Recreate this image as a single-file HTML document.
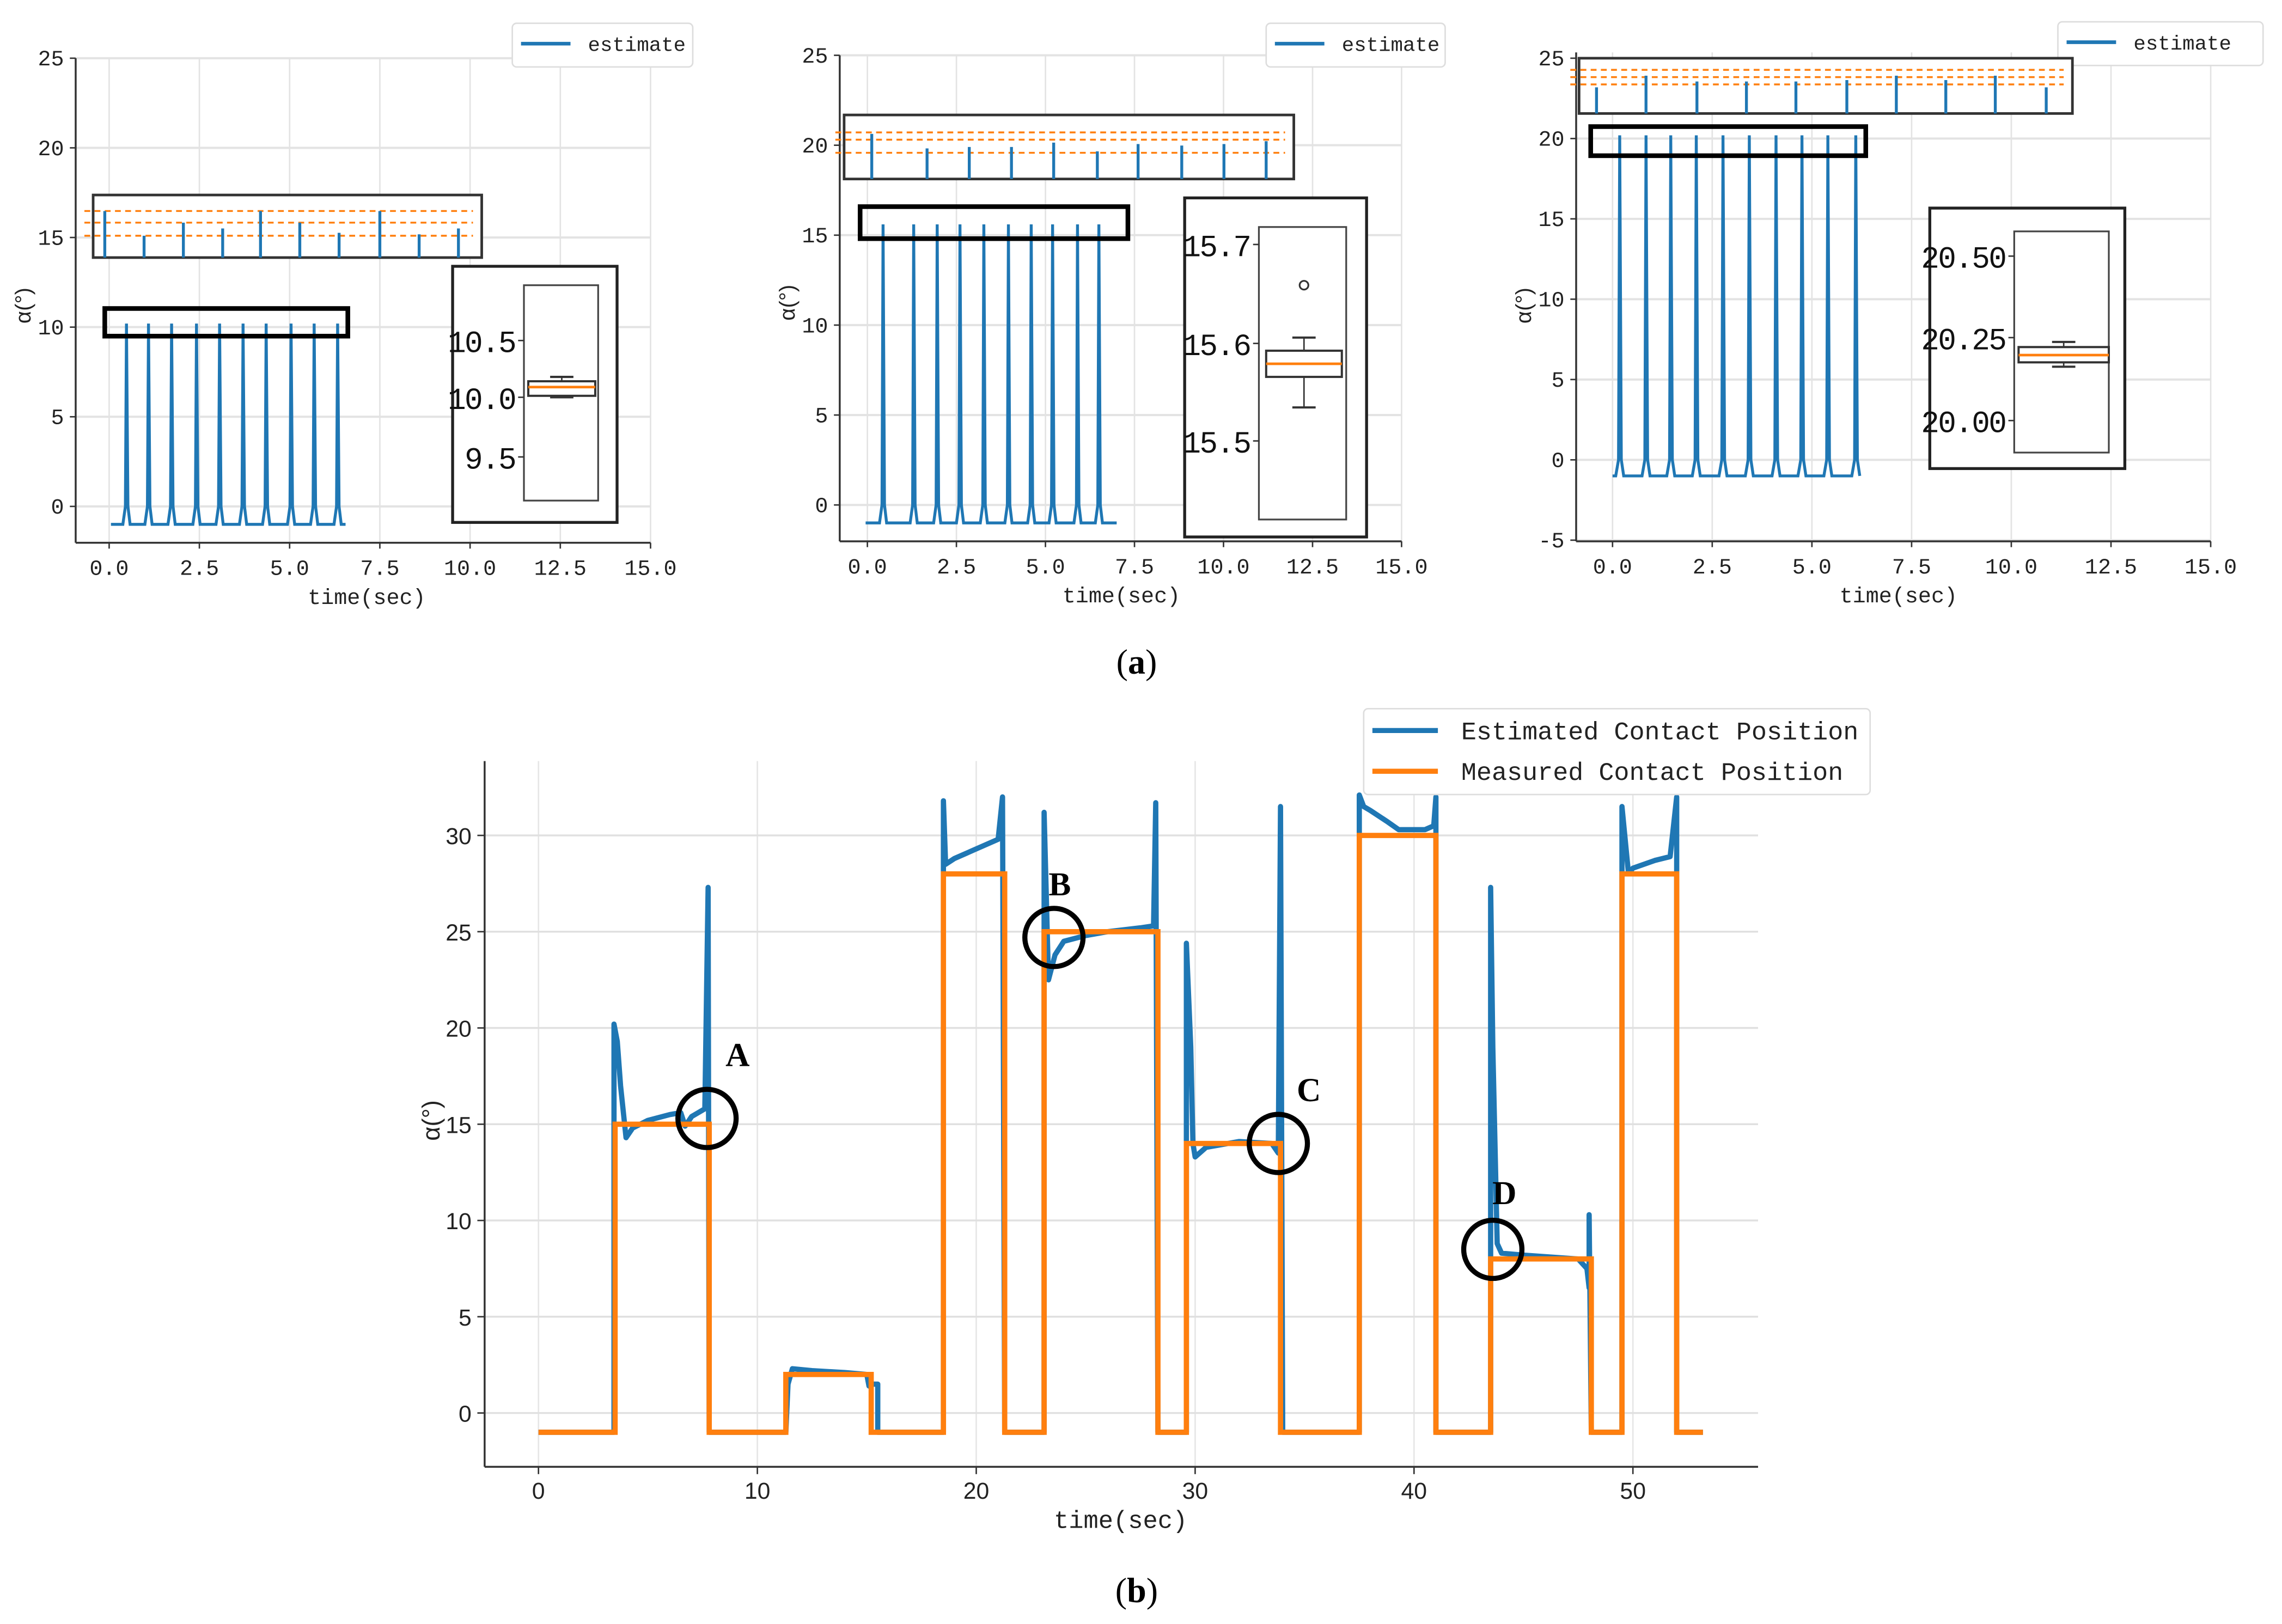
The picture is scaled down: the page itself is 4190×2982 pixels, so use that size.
<!DOCTYPE html>
<html><head><meta charset="utf-8"><style>
html,body{margin:0;padding:0;background:#fff;}
svg{display:block;}
text{font-family:"Liberation Sans","Noto Sans CJK SC",sans-serif;}
.mono{font-family:"Liberation Mono","Noto Sans CJK SC",monospace;}
</style></head><body>
<svg id="fig" xmlns="http://www.w3.org/2000/svg" width="4190" height="2982" viewBox="0 0 1568 1116" preserveAspectRatio="none">
<rect x="0" y="0" width="1568" height="1116" fill="#fff"/>
<text x="781" y="463" text-anchor="middle" style="font-family:'Liberation Serif',serif;font-size:24px">(<tspan font-weight="bold">a</tspan>)</text>
<text x="781" y="1101" text-anchor="middle" style="font-family:'Liberation Serif',serif;font-size:24px">(<tspan font-weight="bold">b</tspan>)</text>
</svg>
<script>
// ---- data: panel a peaks ----
const p1PeakTimes=[0.48,1.09,1.73,2.42,3.06,3.71,4.35,5.04,5.68,6.33];
const p1PeakValue=10.2;
const p1Range=[0.05,6.55];
const p2PeakTimes=[0.44,1.3,1.96,2.6,3.27,3.96,4.6,5.2,5.9,6.5];
const p2PeakValue=15.6;
const p2Range=[-0.05,7.0];
const p3PeakTimes=[0.18,0.84,1.46,2.1,2.77,3.43,4.1,4.75,5.4,6.1];
const p3PeakValue=20.2;
const p3Range=[0,6.2];
const baseline=-1;
const xTicksA=[0,2.5,5,7.5,10,12.5,15];
const xTickLabelsA=["0.0","2.5","5.0","7.5","10.0","12.5","15.0"];
const yTicks12=[0,5,10,15,20,25];
const yTicks3=[-5,0,5,10,15,20,25];
// ---- data: panel b ----
const measuredT=[0,3.5,7.8,11.3,15.2,18.5,21.3,23.1,28.3,29.6,33.9,37.5,41,43.5,48.1,49.5,52,53.2];
const measuredV=[-1,15,-1,2,-1,28,-1,25,-1,14,-1,30,-1,8,-1,28,-1];
const estT=[0,3.45,3.45,3.6,3.75,4.0,4.3,5,6,6.5,6.7,7.0,7.6,7.75,7.8,
11.3,11.4,11.6,12.5,14,15,15.1,15.3,15.5,15.5,
18.5,18.5,18.6,19,20,21,21.2,21.3,
23.1,23.1,23.3,23.6,24,25,26,27.5,28.1,28.2,28.3,
29.6,29.6,29.8,29.9,30,30.5,32,33.5,33.8,33.9,34.0,
37.5,37.5,37.7,38,38.8,39.3,40.5,40.9,41.0,41.0,
43.5,43.5,43.6,43.8,44,45,47.5,47.9,48.0,48.0,48.1,
49.5,49.5,49.8,50,51,51.7,52.0,52.0,53.2];
const estV=[-1,-1,20.2,19.3,17,14.3,14.8,15.2,15.5,15.6,14.9,15.4,15.8,27.3,-1,
-1,1.5,2.3,2.2,2.1,2.0,1.4,1.5,1.5,-1,
-1,31.8,28.5,28.8,29.3,29.8,32,-1,
-1,31.2,22.5,23.8,24.5,24.8,25.0,25.2,25.3,31.7,-1,
-1,24.4,19,14,13.3,13.8,14.1,14.0,13.5,31.5,-1,
-1,32.1,31.5,31.3,30.7,30.3,30.3,30.5,32,-1,
-1,27.3,19,8.8,8.3,8.2,8.0,7.5,6.5,10.3,-1,
-1,31.5,28,28.3,28.7,28.9,32,-1,-1];
const xTicksB=[0,10,20,30,40,50];
const yTicksB=[0,5,10,15,20,25,30];
const circleLabels=["A","B","C","D"];
const circleT=[7.7,23.55,33.8,43.6];
const circleV=[15.3,24.7,14.0,8.5];

const NS="http://www.w3.org/2000/svg";
const svg=document.getElementById('fig');
function el(tag,attrs,parent,txt){const e=document.createElementNS(NS,tag);for(const k in attrs)e.setAttribute(k,attrs[k]);if(txt!==undefined)e.textContent=txt;(parent||svg).appendChild(e);return e;}
const BLUE="#1f77b4",ORANGE="#ff7f0e";

function panel(name,cfg,peaks,peakVal,range,yTicks){
  const g=el('g',{});
  
  
  const X=t=>cfg.x0+t*cfg.px, Y=v=>cfg.y0-v*cfg.py;
  xTicksA.forEach((t,i)=>{
    const gl=el('line',{x1:X(t),x2:X(t),y1:cfg.top,y2:cfg.bottom,stroke:'#e3e3e3','stroke-width':1},g);
    
    el('line',{x1:X(t),x2:X(t),y1:cfg.bottom,y2:cfg.bottom+4,stroke:'#333'},g);
    const tx=el('text',{x:X(t),y:cfg.bottom+22,'text-anchor':'middle','font-size':15,fill:'#222',class:'mono'},g,xTickLabelsA[i]);
    
  });
  yTicks.forEach(v=>{
    const gl=el('line',{x1:cfg.left,x2:X(15),y1:Y(v),y2:Y(v),stroke:'#e3e3e3','stroke-width':1.5},g);
    
    el('line',{x1:cfg.left-4,x2:cfg.left,y1:Y(v),y2:Y(v),stroke:'#333'},g);
    const tx=el('text',{x:cfg.left-8,y:Y(v)+5,'text-anchor':'end','font-size':15,fill:'#222',class:'mono'},g,String(v));
    
  });
  el('line',{x1:cfg.left,x2:cfg.left,y1:cfg.top,y2:cfg.bottom,stroke:'#333','stroke-width':1.3},g);
  el('line',{x1:cfg.left,x2:X(15),y1:cfg.bottom,y2:cfg.bottom,stroke:'#333','stroke-width':1.3},g);
  // series
  let d=`M${X(range[0])},${Y(baseline)}`;
  peaks.forEach(t=>{d+=` L${X(t-0.1)},${Y(baseline)} L${X(t-0.03)},${Y(0)} L${X(t)},${Y(peakVal)} L${X(t+0.04)},${Y(0)} L${X(t+0.1)},${Y(baseline)}`;});
  d+=` L${X(range[1])},${Y(baseline)}`;
  const s=el('path',{d:d,fill:'none',stroke:BLUE,'stroke-width':2},g);
  
  // legend
  const lg=el('g',{},g);
  
  el('rect',{x:cfg.leg[0],y:cfg.leg[1],width:cfg.leg[2],height:30,rx:3,fill:'#fff',stroke:'#ddd'},lg);
  el('line',{x1:cfg.leg[0]+6,x2:cfg.leg[0]+40,y1:cfg.leg[1]+14,y2:cfg.leg[1]+14,stroke:BLUE,'stroke-width':2.5},lg);
  el('text',{x:cfg.leg[0]+52,y:cfg.leg[1]+19,'font-size':14,fill:'#222',class:'mono'},lg,'estimate');
  const xl=el('text',{x:X(7.5)-9,y:cfg.bottom+42,'text-anchor':'middle','font-size':15,fill:'#222',class:'mono'},g,'time(sec)');
  
  const yl=el('text',{x:0,y:0,'text-anchor':'middle','font-size':15,fill:'#222',transform:`translate(${cfg.left-31},${cfg.ylab}) rotate(-90)`},g,'α(°)');
  
  return g;
}
function insets(g,c){
  // zoom strip
  el('rect',{x:c.ub[0],y:c.ub[1],width:c.ub[2]-c.ub[0],height:c.ub[3]-c.ub[1],fill:'#fff',stroke:'#333','stroke-width':1.8},g);
  c.dash.forEach(y=>el('line',{x1:c.ub[0]-6,x2:c.ub[2]-6,y1:y,y2:y,stroke:ORANGE,'stroke-width':1.3,'stroke-dasharray':'4,3'},g));
  c.sx.forEach((x,i)=>el('line',{x1:x,x2:x,y1:c.ub[3],y2:c.st[i],stroke:BLUE,'stroke-width':2},g));
  el('rect',{x:c.bb[0],y:c.bb[1],width:c.bb[2]-c.bb[0],height:c.bb[3]-c.bb[1],fill:'none',stroke:'#000','stroke-width':3.2},g);
  // box inset
  el('rect',{x:c.ob[0],y:c.ob[1],width:c.ob[2]-c.ob[0],height:c.ob[3]-c.ob[1],fill:'#fff',stroke:'#222','stroke-width':2},g);
  el('rect',{x:c.ib[0],y:c.ib[1],width:c.ib[2]-c.ib[0],height:c.ib[3]-c.ib[1],fill:'#fff',stroke:'#444','stroke-width':1.2},g);
  c.ticks.forEach(t=>{el('line',{x1:c.ib[0]-4,x2:c.ib[0],y1:t[1],y2:t[1],stroke:'#333'},g);
    el('text',{x:c.ib[0]-6,y:t[1]+8,'text-anchor':'end','font-size':21,fill:'#111',class:'mono','letter-spacing':-1},g,t[0]);});
  const bx=c.box, cx=(bx[0]+bx[1])/2;
  el('line',{x1:cx,x2:cx,y1:bx[5],y2:bx[6],stroke:'#333'},g);
  el('line',{x1:cx-8,x2:cx+8,y1:bx[5],y2:bx[5],stroke:'#333','stroke-width':1.5},g);
  el('line',{x1:cx-8,x2:cx+8,y1:bx[6],y2:bx[6],stroke:'#333','stroke-width':1.5},g);
  el('rect',{x:bx[0],y:bx[2],width:bx[1]-bx[0],height:bx[3]-bx[2],fill:'#fff',stroke:'#333','stroke-width':1.5},g);
  el('line',{x1:bx[0],x2:bx[1],y1:bx[4],y2:bx[4],stroke:ORANGE,'stroke-width':1.8},g);
  if(c.out) el('circle',{cx:c.out[0],cy:c.out[1],r:3,fill:'none',stroke:'#333','stroke-width':1.2},g);
}
const g1=panel('panel-a1',{x0:75,px:24.8,y0:348,py:12.32,left:52,top:40,bottom:373,leg:[352,16,124],ylab:210},p1PeakTimes,p1PeakValue,p1Range,yTicks12);
insets(g1,{ub:[64,134,331,177],dash:[145,153,162],sx:[72,99,126,153,179,206,233,261,288,315],st:[145,162,153,157,145,153,160,145,161,157],
 bb:[72,212,239,231],ob:[311,183,424,359],ib:[360,196,411,344],ticks:[["10.5",234],["10.0",273],["9.5",314]],box:[363,409,262,272,266,259,273]});
const g2=panel('panel-a2',{x0:596,px:24.47,y0:347,py:12.36,left:577,top:38,bottom:372,leg:[870,16,123],ylab:208},p2PeakTimes,p2PeakValue,p2Range,yTicks12);
insets(g2,{ub:[580,79,889,123],dash:[91,96,105],sx:[599,637,666,695,724,754,782,812,841,870],st:[92,102,101,101,98,104,99,100,99,97],
 bb:[591,142,775,164],ob:[814,136,939,369],ib:[865,156,925,357],ticks:[["15.7",168],["15.6",236],["15.5",303]],box:[870,922,241,259,250,232,280],out:[896,196]});
const g3=panel('panel-a3',{x0:1108,px:27.4,y0:316,py:11.04,left:1083,top:36,bottom:372,leg:[1414,15,141],ylab:210},p3PeakTimes,p3PeakValue,p3Range,yTicks3);
insets(g3,{ub:[1085,40,1424,78],dash:[48,53,58],sx:[1097,1131,1166,1200,1234,1269,1303,1337,1371,1406],st:[60,52,56,56,56,55,52,55,52,60],
 bb:[1093,87,1282,107],ob:[1326,143,1460,322],ib:[1384,159,1449,311],ticks:[["20.50",176],["20.25",232],["20.00",289]],box:[1387,1449,238.5,249,244,235,252]});

// ---- panel b ----
(function(){
  const g=el('g',{});
  
  
  const X=t=>370+t*15.04, Y=v=>971-v*13.23;
  const L=333,B=1008,R=1208,T=523;
  xTicksB.forEach(t=>{
    const gl=el('line',{x1:X(t),x2:X(t),y1:T,y2:B,stroke:'#e6e6e6'},g);
    
    el('line',{x1:X(t),x2:X(t),y1:B,y2:B+5,stroke:'#333'},g);
    const tx=el('text',{x:X(t),y:B+22,'text-anchor':'middle','font-size':16,fill:'#222'},g,String(t));
    
  });
  yTicksB.forEach(v=>{
    const gl=el('line',{x1:L,x2:R,y1:Y(v),y2:Y(v),stroke:'#e0e0e0','stroke-width':1.3},g);
    
    el('line',{x1:L-5,x2:L,y1:Y(v),y2:Y(v),stroke:'#333'},g);
    const tx=el('text',{x:L-9,y:Y(v)+6,'text-anchor':'end','font-size':16,fill:'#222'},g,String(v));
    
  });
  el('line',{x1:L,x2:L,y1:T,y2:B,stroke:'#333','stroke-width':1.3},g);
  el('line',{x1:L,x2:R,y1:B,y2:B,stroke:'#333','stroke-width':1.3},g);
  let d='';
  estT.forEach((t,i)=>{d+=(i?' L':'M')+X(t)+','+Y(estV[i]);});
  const est=el('path',{d:d,fill:'none',stroke:BLUE,'stroke-width':3.6,'stroke-linejoin':'round'},g);
  
  let m='';
  measuredV.forEach((v,i)=>{m+=(i?' L':'M')+X(measuredT[i])+','+Y(v)+' L'+X(measuredT[i+1])+','+Y(v);});
  const mea=el('path',{d:m,fill:'none',stroke:ORANGE,'stroke-width':3.6},g);
  
  circleLabels.forEach((lab,i)=>{
    const c=el('circle',{cx:X(circleT[i]),cy:Y(circleV[i]),r:20,fill:'none',stroke:'#000','stroke-width':3.5},g);
    
    const tx=el('text',{x:X(circleT[i])+(i==1?4:i==3?8:21),y:Y(circleV[i])-(i==0?36:i==1?29:i==2?29:31),'text-anchor':'middle','font-size':23,'font-weight':'bold',fill:'#000',style:"font-family:'Liberation Serif',serif"},g,lab);
    
  });
  const lg=el('g',{},g);
  
  el('rect',{x:937,y:487,width:348,height:59,rx:3,fill:'#fff',stroke:'#ddd'},lg);
  el('line',{x1:943,x2:988,y1:502,y2:502,stroke:BLUE,'stroke-width':3.5},lg);
  el('line',{x1:943,x2:988,y1:530,y2:530,stroke:ORANGE,'stroke-width':3.5},lg);
  el('text',{x:1004,y:508,'font-size':17.5,fill:'#222',class:'mono'},lg,'Estimated Contact Position');
  el('text',{x:1004,y:536,'font-size':17.5,fill:'#222',class:'mono'},lg,'Measured Contact Position');
  const xl=el('text',{x:770,y:1050,'text-anchor':'middle','font-size':17,fill:'#222',class:'mono'},g,'time(sec)');
  
  const yl=el('text',{x:0,y:0,'text-anchor':'middle','font-size':17,fill:'#222',transform:'translate(302,770) rotate(-90)'},g,'α(°)');
  
})();
</script>
</body></html>
